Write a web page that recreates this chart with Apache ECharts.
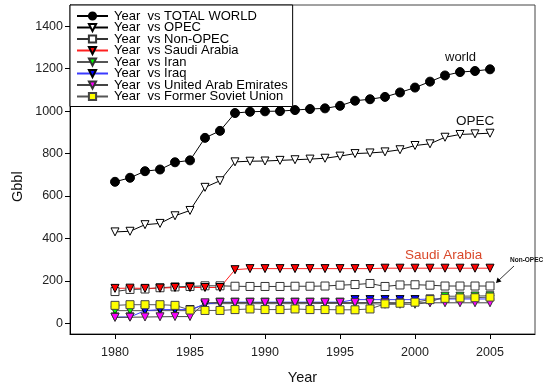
<!DOCTYPE html>
<html><head><meta charset="utf-8">
<script src="https://cdn.jsdelivr.net/npm/echarts@6/dist/echarts.min.js"></script>
<style>html,body{margin:0;padding:0;background:#fff}#c{width:545px;height:390px}</style>
</head><body><div id="c"></div>
<script>
const years = [1980,1981,1982,1983,1984,1985,1986,1987,1988,1989,1990,1991,1992,1993,1994,1995,1996,1997,1998,1999,2000,2001,2002,2003,2004,2005];
const world = [667,686,717,725,759,768,874,907,991,997,999,1000,1005,1010,1013,1025,1049,1056,1067,1088,1111,1139,1168,1184,1189,1197];
const opec = [431,434,465,471,507,532,641,672,761,764,765,768,771,774,778,788,800,803,808,818,838,846,877,890,893,896];
const nonOpec = [150,160,162,168,172,174,177,177,175,174,174,174,175,175,176,180,183,188,174,181,182,180,176,176,176,176];
const saudi = [165,166,165,166,169,169,169,169,253,258,258,258,258,258,258,258,258,258,260,260,260,260,260,260,260,260];
const iran = [60,60,60,60,60,60,93,93,93,93,93,93,93,93,94,94,93,93,90,90,90,99,128,128,129,130];
const iraq = [30,30,60,65,65,65,90,100,100,100,100,100,100,100,100,100,112,112,112,112,112,115,115,115,115,115];
const uae = [28,29,30,31,32,32,97,98,98,98,98,98,98,98,98,98,98,98,98,97,97,97,97,97,97,97];
const fsu = [85,88,88,88,85,63,61,61,65,68,65,65,68,65,65,64,64,68,92,95,100,112,118,120,121,124];
const yTicks = [0,200,400,600,800,1000,1200,1400];
const xTicks = [1980,1985,1990,1995,2000,2005];
const names = ['Year  vs TOTAL WORLD','Year  vs OPEC','Year  vs Non-OPEC','Year  vs Saudi Arabia','Year  vs Iran','Year  vs Iraq','Year  vs United Arab Emirates','Year  vs Former Soviet Union'];

const FONT = 'Arial, "Liberation Sans", sans-serif';
function pairs(v){ return years.map((y,i)=>[y,v[i]]); }
function mk(name, vals, symbol, fill, line, size, rot, border){
  return {
    name: name, type: 'line', data: pairs(vals),
    symbol: symbol, symbolSize: size, symbolRotate: rot || 0,
    showAllSymbol: true, animation: false,
    lineStyle: {color: line, width: 1},
    itemStyle: {color: fill, borderColor: border || '#000', borderWidth: 1, opacity: 1},
    emphasis: {disabled: true}
  };
}
const series = [
  mk(names[0], world, 'circle', '#000', '#000', 9, 0),
  mk(names[1], opec, 'triangle', '#fff', '#000', 8, 180),
  mk(names[2], nonOpec, 'rect', '#fff', '#333', 8, 0, '#333'),
  mk(names[3], saudi, 'triangle', '#ff0000', '#ff2020', 8, 180),
  mk(names[4], iran, 'triangle', '#00ff00', '#555', 8, 180, '#333'),
  mk(names[5], iraq, 'triangle', '#0000ff', '#3a3aff', 8, 180),
  mk(names[6], uae, 'triangle', '#ff00ff', '#444', 8, 180, '#333'),
  mk(names[7], fsu, 'rect', '#ffff00', '#555', 8, 0, '#444')
];

const chart = echarts.init(document.getElementById('c'), null, {renderer: 'canvas'});
chart.setOption({
  animation: false,
  backgroundColor: '#fff',
  textStyle: {fontFamily: FONT},
  grid: {left: 70, right: 10, top: 5, bottom: 53, show: true, borderColor: '#444', borderWidth: 1, backgroundColor: 'transparent'},
  legend: {
    orient: 'vertical', left: 70, top: 5,
    padding: [4.5, 5, 3.5, 6], itemGap: -1.5,
    itemWidth: 31, itemHeight: 9,
    backgroundColor: '#fff', borderColor: '#000', borderWidth: 1,
    textStyle: {fontSize: 13, lineHeight: 13, color: '#000', fontFamily: FONT, padding: [0,0,0,1]},
    data: names, selectedMode: false
  },
  xAxis: {
    type: 'value', min: 1977, max: 2008,
    name: 'Year', nameLocation: 'middle', nameGap: 36,
    nameTextStyle: {fontSize: 14.5, color: '#111', fontFamily: FONT},
    axisLine: {onZero: false, lineStyle: {color: '#000', width: 1}},
    axisTick: {show: true, length: 5, inside: false, customValues: xTicks, lineStyle: {color: '#000'}},
    axisLabel: {customValues: xTicks, formatter: v => String(v), fontSize: 12.5, color: '#222', margin: 12, fontFamily: FONT},
    splitLine: {show: false}
  },
  yAxis: {
    type: 'value', min: -50, max: 1500,
    axisLine: {show: true, onZero: false, lineStyle: {color: '#000', width: 1}},
    axisTick: {show: true, length: 5, inside: false, customValues: yTicks, lineStyle: {color: '#000'}},
    axisLabel: {customValues: yTicks, formatter: v => String(v), fontSize: 12.5, color: '#222', margin: 7, fontFamily: FONT},
    splitLine: {show: false}
  },
  graphic: [
    {type: 'text', rotation: Math.PI/2, x: 10, y: 202, style: {text: 'Gbbl', font: '14.5px ' + FONT, fill: '#111'}},
    {type: 'text', x: 445, y: 51, style: {text: 'world', font: '13px ' + FONT, fill: '#111'}},
    {type: 'text', x: 456, y: 114, style: {text: 'OPEC', font: '13.5px ' + FONT, fill: '#111'}},
    {type: 'text', x: 405, y: 248, style: {text: 'Saudi Arabia', font: '13.5px ' + FONT, fill: '#d9482a'}},
    {type: 'text', x: 510, y: 257, style: {text: 'Non-OPEC', font: 'bold 6.5px ' + FONT, fill: '#111'}},
    {type: 'line', shape: {x1: 514, y1: 266, x2: 498, y2: 281}, style: {stroke: '#000', lineWidth: 0.8}},
    {type: 'polygon', shape: {points: [[496, 283], [497.5, 277.5], [501.5, 281.5]]}, style: {fill: '#000'}}
  ],
  series: series
});
</script></body></html>
